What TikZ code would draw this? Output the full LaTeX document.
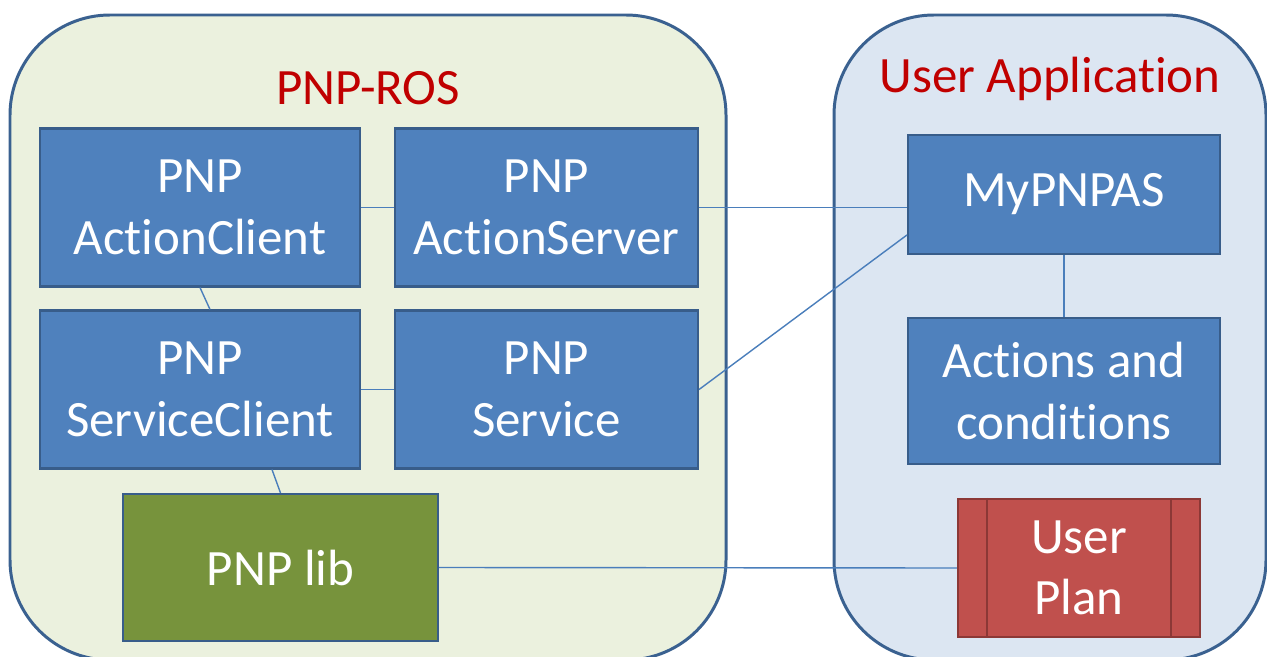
\documentclass[tikz,border=0pt]{standalone}
\usepackage{fontspec}
\setmainfont{Carlito}[Ligatures={NoCommon}]
\usepackage{tikz}

\definecolor{rosfill}{HTML}{EBF1DE}
\definecolor{appfill}{HTML}{DCE6F2}
\definecolor{paneline}{HTML}{3A6190}
\definecolor{compblue}{HTML}{4F81BD}
\definecolor{compline}{HTML}{385D8A}
\definecolor{libgreen}{HTML}{77933C}
\definecolor{planred}{HTML}{C0504D}
\definecolor{planline}{HTML}{8C3836}
\definecolor{titlered}{HTML}{C00000}
\definecolor{linkblue}{HTML}{4A7EBB}

\begin{document}
\begin{tikzpicture}[node distance = 6.93cm,
  pane/.style = {draw=paneline, line width=1.7pt, rounded corners=2cm, minimum height=12.9cm},
  title/.style = {text=titlered, font=\fontsize{29}{35}\selectfont},
  comp/.style = {draw=compline, fill=compblue, line width=1.2pt, text=white, align=center,
                 minimum height=3.16cm, font=\fontsize{29}{35}\selectfont},
  link/.style = {draw=linkblue, line width=0.8pt}]
\useasboundingbox (0,0) rectangle (25.34,-13.14);
% containers
\node[pane, fill=rosfill, minimum width=14.32cm] (ros) at (7.36,-6.75) {};
\node[pane, fill=appfill, minimum width=8.64cm] (app) at (21.0,-6.75) {};
\node[title] (rostitle) at (7.36,-1.77) {PNP-ROS};
\node[title] (apptitle) at (21.0,-1.58) {User Application};
% PNP-ROS parts
\node[comp, minimum width=6.4cm] (ac) at (4.0,-4.15) {PNP\\ActionClient};
\node[comp, minimum width=6.06cm] (as) [right of=ac] {PNP\\ActionServer};
\node[comp, minimum width=6.4cm] (sc) [below of=ac, node distance=3.64cm] {PNP\\ServiceClient};
\node[comp, minimum width=6.06cm] (sv) [below of=as, node distance=3.64cm] {PNP\\Service};
\node[comp, fill=libgreen, minimum width=6.3cm, minimum height=2.94cm] (lib) at (5.61,-11.35) {PNP lib};
% user application parts
\node[comp, minimum width=6.24cm, minimum height=2.38cm] (my) at (21.28,-3.89) {MyPNPAS};
\node[comp, minimum width=6.24cm, minimum height=2.92cm] (act) [below of=my, node distance=3.93cm] {Actions and\\conditions};
\node[comp, draw=planline, fill=planred, minimum width=4.84cm, minimum height=2.76cm] (plan) at (21.58,-11.36) {User\\Plan};
\draw[planline, line width=1.2pt] ([xshift=0.6cm]plan.north west) -- ([xshift=0.6cm]plan.south west);
\draw[planline, line width=1.2pt] ([xshift=-0.6cm]plan.north east) -- ([xshift=-0.6cm]plan.south east);
% connectors
\path (ac) edge[link] (as);
\path (as.east) edge[link] (as.east -| my.west);
\path (ac.south) edge[link] ([xshift=0.2cm]sc.north);
\path (sc) edge[link] (sv);
\path (sv.east) edge[link] ([yshift=-0.81cm]my.west);
\path ([xshift=1.44cm]sc.south) edge[link] (lib.north);
\path (my) edge[link] (act);
\path (lib.east) edge[link] (plan.west);
\end{tikzpicture}
\end{document}
